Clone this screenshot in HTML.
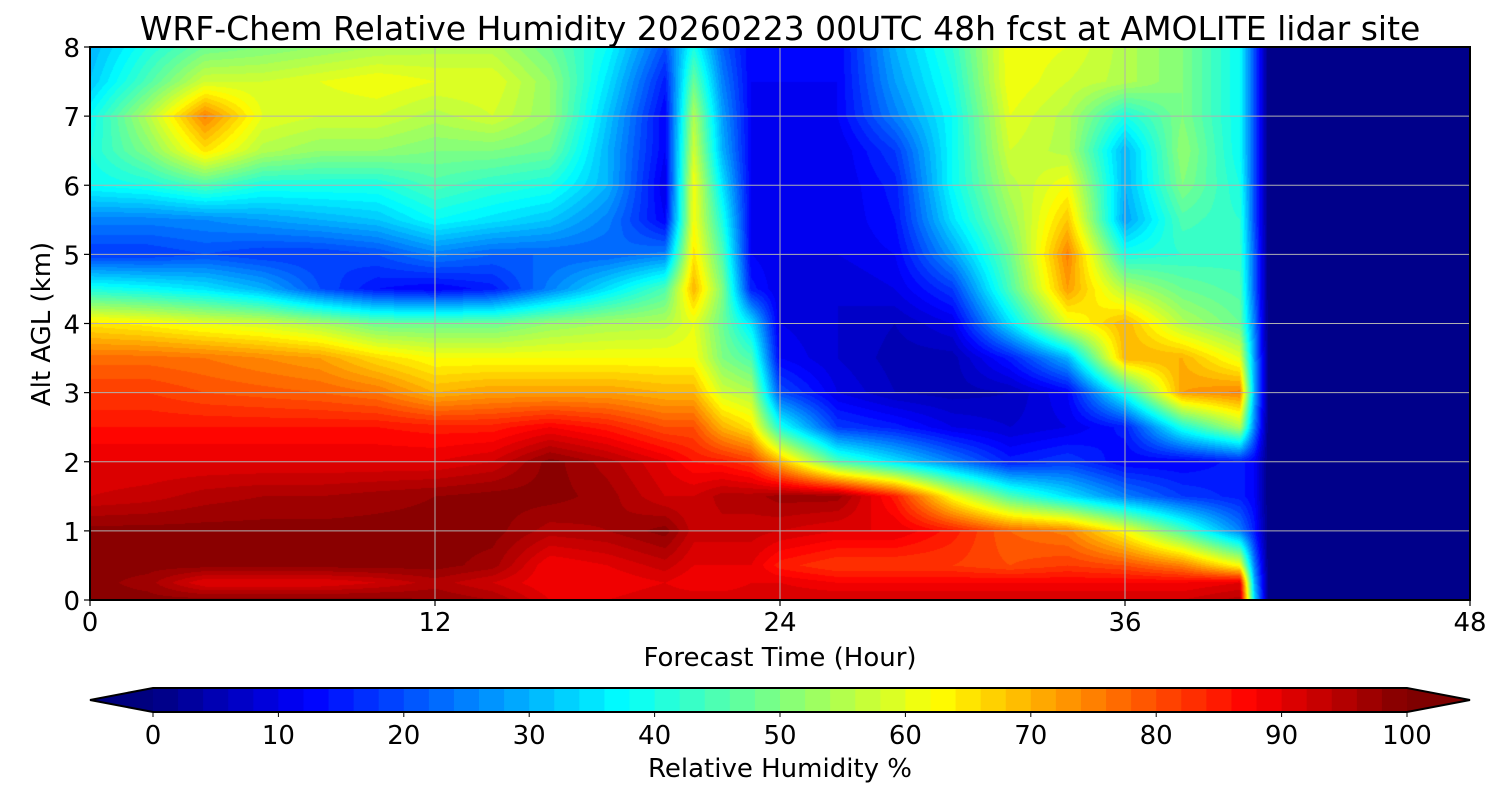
<!DOCTYPE html>
<html><head><meta charset="utf-8"><style>
body{margin:0;background:#fff;width:1500px;height:800px;overflow:hidden;font-family:"DejaVu Sans","Liberation Sans",sans-serif}
#wrap{position:relative;width:1500px;height:800px}
canvas{position:absolute;left:90px;top:47px}
svg{position:absolute;left:0;top:0}
</style></head><body>
<div id="wrap">
<canvas id="cv" width="1380" height="553"></canvas>
<svg id="sv" width="1500" height="800"></svg>
</div>
<script>
const times=[0,2,4,6,8,10,12,14,16,18,20,21,22,23,24,26,28,30,32,34,36,38,40,40.5,41,48];
const heights=[0,0.25,0.5,1,1.5,2,2.5,3,3.5,4,4.5,5,5.5,6,6.5,7,7.5,8];
// rh[i] = column at times[i], values at heights
const rh=[
[99,99,99,99,92,90,86,82,77,65,40,18,25,38,40,38,32,30],
[99,97,99,99,93,90,86,82,77,63,38,18,25,40,50,55,45,40],
[99,90,99,99,95,90,86,80,76,60,35,20,26,45,65,75,58,48],
[99,90,99,99,96,90,86,79,74,58,30,18,28,40,55,60,58,50],
[99,90,99,99,96,90,86,78,72,54,20,18,30,40,52,58,60,52],
[99,92,99,99,97,90,86,76,66,48,14,20,32,40,52,58,62,54],
[98,95,99,99,98,90,85,70,62,48,12,25,38,45,50,55,60,55],
[96,92,97,99,99,92,85,72,62,48,15,22,35,42,50,58,60,55],
[90,88,88,95,99,99,88,72,62,52,25,22,32,40,48,52,52,48],
[90,88,90,96,97,95,85,72,62,54,35,22,25,30,30,32,35,38],
[92,90,93,99,92,90,80,70,62,55,45,25,12,10,12,12,15,20],
[92,88,90,93,92,86,80,70,62,60,70,65,62,62,58,55,48,40],
[92,88,90,93,95,85,70,58,50,48,50,45,40,35,30,28,25,22],
[92,90,90,93,95,82,65,55,45,35,15,12,12,12,12,12,12,12],
[92,90,85,92,97,70,40,20,12,10,10,10,10,10,10,10,12,12],
[92,88,82,90,97,45,18,10,8,8,8,10,10,10,10,12,12,12],
[92,88,82,90,85,35,15,6,5,6,10,12,14,15,18,25,28,30],
[92,88,82,85,62,25,10,5,5,10,18,28,35,38,38,38,40,42],
[92,88,80,78,45,15,8,6,15,35,45,48,52,55,58,60,62,62],
[92,88,82,75,35,18,10,12,30,60,72,75,68,62,55,55,58,60],
[92,88,80,62,25,12,15,40,70,70,55,40,28,30,30,40,55,55],
[92,88,75,45,18,12,40,72,70,55,48,42,45,50,52,50,50,50],
[95,90,62,25,15,15,55,75,60,48,45,43,42,40,38,38,38,38],
[35,30,25,15,12,12,25,30,28,25,22,22,20,20,20,20,20,20],
[0,0,0,0,0,0,0,0,0,0,0,0,0,0,0,0,0,0],
[0,0,0,0,0,0,0,0,0,0,0,0,0,0,0,0,0,0]];
const xTicks=[0,12,24,36,48];
const yTicks=[0,1,2,3,4,5,6,7,8];
const cbTicks=[0,10,20,30,40,50,60,70,80,90,100];

const PX=90,PY=47,PW=1380,PH=553;
const xs=t=>PX+t/48*PW, ys=h=>PY+PH-h/8*PH;
function jet(v){const x=Math.max(0,Math.min(1,v/100));const c=a=>Math.round(255*Math.max(0,Math.min(1,1.5-Math.abs(4*x-a))));return [c(3),c(2),c(1)];}
function lev(v){return Math.min(99,Math.floor(v/2)*2+1);}
function seg(arr,v){for(let i=0;i<arr.length-1;i++)if(v<=arr[i+1])return i;return arr.length-2;}
const cv=document.getElementById('cv'),ctx=cv.getContext('2d');
const img=ctx.createImageData(PW,PH);
const colIdx=[],colF=[];
for(let px=0;px<PW;px++){const t=(px+0.5)/PW*48;const i=seg(times,t);colIdx.push(i);colF.push((t-times[i])/(times[i+1]-times[i]));}
for(let py=0;py<PH;py++){const h=8-(py+0.5)/PH*8;const j=seg(heights,h);const fy=(h-heights[j])/(heights[j+1]-heights[j]);
 for(let px=0;px<PW;px++){const i=colIdx[px],fx=colF[px];
  const v=(rh[i][j]*(1-fx)+rh[i+1][j]*fx)*(1-fy)+(rh[i][j+1]*(1-fx)+rh[i+1][j+1]*fx)*fy;
  const c=jet(lev(v));const k=(py*PW+px)*4;img.data[k]=c[0];img.data[k+1]=c[1];img.data[k+2]=c[2];img.data[k+3]=255;}}
ctx.putImageData(img,0,0);
const NS='http://www.w3.org/2000/svg',sv=document.getElementById('sv');
function mk(tag,attrs,txt){const e=document.createElementNS(NS,tag);for(const k in attrs)e.setAttribute(k,attrs[k]);if(txt!==undefined)e.textContent=txt;sv.appendChild(e);return e;}
xTicks.forEach(t=>{
 const g=mk('line',{x1:xs(t),x2:xs(t),y1:PY,y2:PY+PH,stroke:'#b0b0b0','stroke-width':1});
 
 
 const tk=mk('line',{x1:xs(t),x2:xs(t),y1:PY+PH,y2:PY+PH+6,stroke:'#000','stroke-width':1.2});
 
 
 const l=mk('text',{x:xs(t),y:631,'font-size':26,'text-anchor':'middle'},String(t));
 
 
});
yTicks.forEach(h=>{
 const g=mk('line',{x1:PX,x2:PX+PW,y1:ys(h),y2:ys(h),stroke:'#b0b0b0','stroke-width':1});
 
 
 const tk=mk('line',{x1:PX-6,x2:PX,y1:ys(h),y2:ys(h),stroke:'#000','stroke-width':1.2});
 
 
 const l=mk('text',{x:80,y:ys(h)+10,'font-size':26,'text-anchor':'end'},String(h));
 
 
});
const fr=mk('rect',{x:PX,y:PY,width:PW,height:PH,fill:'none',stroke:'#000','stroke-width':2});


const ti=mk('text',{x:780,y:40,'font-size':33,'text-anchor':'middle'},'WRF-Chem Relative Humidity 20260223 00UTC 48h fcst at AMOLITE lidar site');


const xl=mk('text',{x:780,y:666,'font-size':26,'text-anchor':'middle'},'Forecast Time (Hour)');


const yl=mk('text',{x:0,y:0,'font-size':26,'text-anchor':'middle',transform:'translate(50,324) rotate(-90)'},'Alt AGL (km)');


const CX0=153,CX1=1407,CY=688,CH=24;const cx=v=>CX0+v/100*(CX1-CX0);
for(let v=0;v<100;v+=2){const c=jet(v+1);
 const r=mk('rect',{x:cx(v),y:CY,width:cx(v+2)-cx(v)+0.6,height:CH,fill:`rgb(${c})`});
 
 }
const la=mk('polygon',{points:`${CX0},${CY} 90,${CY+CH/2} ${CX0},${CY+CH}`,fill:'#00007f'});


const ra=mk('polygon',{points:`${CX1},${CY} 1470,${CY+CH/2} ${CX1},${CY+CH}`,fill:'#7f0000'});


const cb=mk('polygon',{points:`90,${CY+CH/2} ${CX0},${CY} ${CX1},${CY} 1470,${CY+CH/2} ${CX1},${CY+CH} ${CX0},${CY+CH}`,fill:'none',stroke:'#000','stroke-width':2});


cbTicks.forEach(v=>{
 const tk=mk('line',{x1:cx(v),x2:cx(v),y1:CY+CH,y2:CY+CH+5,stroke:'#000','stroke-width':1});
 
 
 const l=mk('text',{x:cx(v),y:744,'font-size':26,'text-anchor':'middle'},String(v));
 
 
});
const ct=mk('text',{x:780,y:777,'font-size':26,'text-anchor':'middle'},'Relative Humidity %');


</script>
</body></html>
